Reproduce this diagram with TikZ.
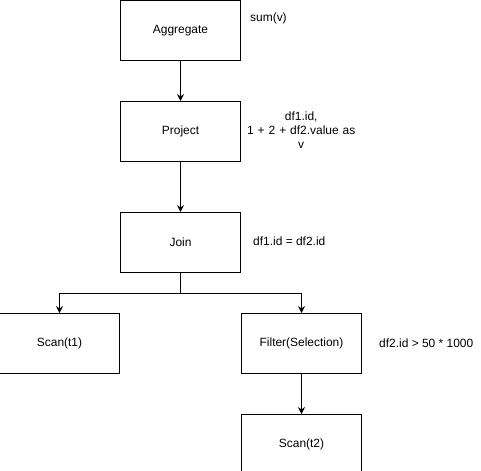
\documentclass[tikz,border=0pt]{standalone}
\usepackage{fontspec}
\setmainfont{Liberation Sans}
\usetikzlibrary{arrows.meta, positioning}

\begin{document}
\begin{tikzpicture}[
        x=1bp, y=-1bp,
        node distance=40bp,
        every node/.style={font=\fontsize{12}{14}\selectfont},
        block/.style={rectangle, draw, line width=1bp, minimum width=120bp, minimum height=60bp, inner sep=0pt},
        note/.style={inner sep=0pt},
        arrow/.style={line width=1bp, -{Stealth[length=7bp, width=7bp, inset=2.5bp]}}
    ]
        \useasboundingbox (-0.5,-0.5) rectangle (480.5,470.5);

        \node[block] (aggregate) at (180,30) {Aggregate};
        \node[block, below=of aggregate] (project) {Project};
        \node[block, below=50bp of project] (join) {Join};
        \node[block, below left=40bp and 0bp of join] (scan1) {Scan(t1)};
        \node[block, below right=40bp and 0bp of join] (filter) {Filter(Selection)};
        \node[block, below=of filter] (scan2) {Scan(t2)};

        \node[note, right=9bp of aggregate, yshift=12bp] (aggnote) {sum(v)};
        \node[note, right=0bp of project, text width=120bp, align=center, yshift=1bp] (projnote) {df1.id,\\ 1 + 2 + df2.value as\\ v};
        \node[note, right=12bp of join, yshift=1bp] (joinnote) {df1.id = df2.id};
        \node[note, right=17bp of filter] (filternote) {df2.id > 50 * 1000};

        \draw[arrow] (aggregate) -- (project);
        \draw[arrow] (project) -- (join);
        \draw[arrow] (join.south) -- ++(0,20) -| (scan1);
        \draw[arrow] (join.south) -- ++(0,20) -| (filter);
        \draw[arrow] (filter) -- (scan2);
    \end{tikzpicture}
\end{document}
